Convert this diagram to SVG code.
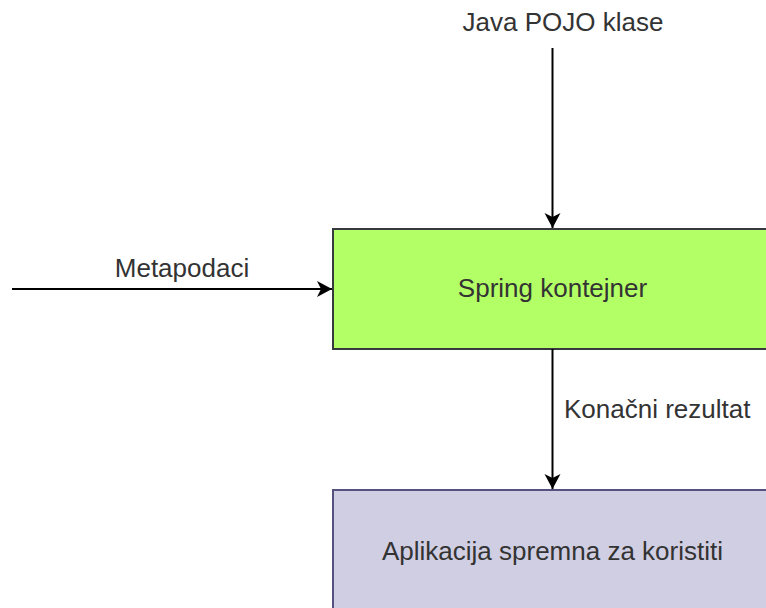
<svg xmlns="http://www.w3.org/2000/svg" width="766" height="608" viewBox="0 0 766 608">
<style>
text{font-family:"Liberation Sans",Arial,sans-serif;font-size:26px;fill:#333333}
.c{text-anchor:middle}
.edge{stroke:#000;stroke-width:2;fill:none}
</style>
<defs>
<marker id="ah" viewBox="-16 -9 17 18" refX="0" refY="0" markerWidth="17" markerHeight="18" markerUnits="userSpaceOnUse" orient="auto">
<path d="M0,0 L-15,-8 L-11,0 L-15,8 Z" fill="#000"/>
</marker>
</defs>
<rect width="766" height="608" fill="#fff"/>
<g id="spring">
<rect x="333" y="229" width="450" height="120" fill="#B3FF66" stroke="#36393d" stroke-width="2"/>
<text class="c" x="552.5" y="297">Spring kontejner</text>
</g>
<g id="aplikacija">
<rect x="333" y="490" width="450" height="140" fill="#D0CEE2" stroke="#56517e" stroke-width="2"/>
<text class="c" x="552.5" y="560">Aplikacija spremna za koristiti</text>
</g>
<g id="connectors">
<path class="edge" d="M552.5,48 V228" marker-end="url(#ah)"/>
<path class="edge" d="M12,289 H332" marker-end="url(#ah)"/>
<path class="edge" d="M552.5,349 V489" marker-end="url(#ah)"/>
<text class="c" x="563" y="31">Java POJO klase</text>
<text class="c" x="182" y="277">Metapodaci</text>
<text x="564" y="418">Konačni rezultat</text>
</g>
</svg>
